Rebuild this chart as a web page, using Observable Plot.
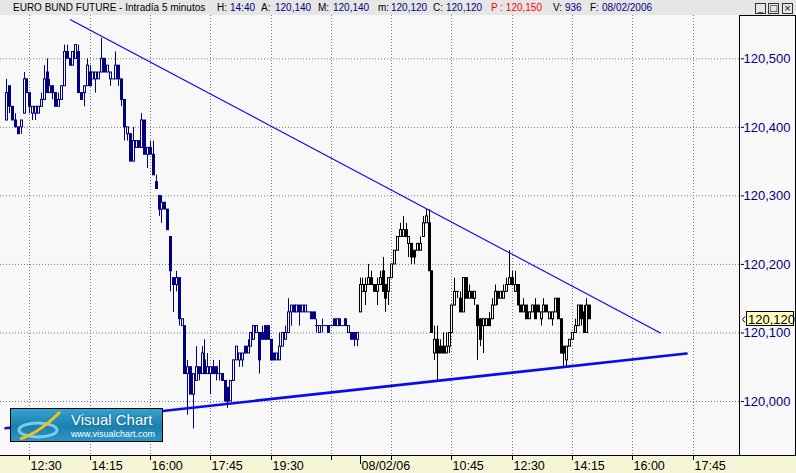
<!DOCTYPE html>
<html><head><meta charset="utf-8">
<script src="https://cdn.jsdelivr.net/npm/d3@7"></script>
<script src="https://cdn.jsdelivr.net/npm/@observablehq/plot@0.6"></script>
<style>
html,body{margin:0;padding:0}
body{width:796px;height:473px;overflow:hidden;position:relative;background:#f8f8f8;font-family:"Liberation Sans",Arial,sans-serif}
#bar{position:absolute;left:0;top:0;width:796px;height:15px;background:#e6e6e6}
#bar span{position:absolute;top:2px;font-size:10px;line-height:11px;white-space:nowrap;color:#000}
#bar span.v{color:#000080}
#bar span.r{color:#ff0000}
.btn{position:absolute;top:3px;width:9px;height:9px;border:1px solid #333;background:#e6e6e6;font-size:9px;line-height:9px;text-align:center;color:#000;font-family:"DejaVu Sans",sans-serif}
#chart{position:absolute;left:0;top:15px}
#logo{position:absolute;left:10px;top:408px;width:151px;height:32px;border:1px solid #000;background:linear-gradient(#33a3cf,#1c80ae 55%,#2a96c4);overflow:hidden}
#logo .t1{position:absolute;left:60px;top:2px;color:#fff;font-size:15px;line-height:17px;text-shadow:0 0 2px #0b4f70;white-space:nowrap}
#logo .t2{position:absolute;left:60px;top:20px;color:#fff;font-size:9px;line-height:10px;white-space:nowrap}
#logo svg{position:absolute;left:0;top:0}
</style>
</head><body>
<div id="bar">
<span style="left:13px">EURO BUND FUTURE - Intradía 5 minutos</span>
<span style="left:217px">H:</span><span class="v" style="left:230px">14:40</span>
<span style="left:261px">A:</span><span class="v" style="left:275px">120,140</span>
<span style="left:318px">M:</span><span class="v" style="left:333px">120,140</span>
<span style="left:378px">m:</span><span class="v" style="left:391px">120,120</span>
<span style="left:433px">C:</span><span class="v" style="left:446px">120,120</span>
<span class="r" style="left:491px">P : 120,150</span>
<span style="left:553px">V:</span><span class="v" style="left:565px">936</span>
<span style="left:590px">F:</span><span class="v" style="left:602px">08/02/2006</span>
<div class="btn" style="left:755px">_</div>
<div class="btn" style="left:768px">□</div>
<div class="btn" style="left:782px">×</div>
</div>
<div id="chart"></div>
<div id="logo">
<svg width="60" height="32"><ellipse cx="27" cy="21" rx="19" ry="7" fill="none" stroke="#8fd6f2" stroke-width="3" opacity="0.85"/><path d="M9,30 C22,26 36,16 49,3" fill="none" stroke="#f3c21a" stroke-width="3"/></svg>
<div class="t1">Visual Chart</div>
<div class="t2">www.visualchart.com</div>
</div>
<script>
// ---- Day 1 (07/02/2006), 5-minute bars ----
const d1Open = [
120.41,120.46,120.43,120.41,120.40,120.40,120.42,120.47,120.45,120.42,
120.42,120.42,120.43,120.44,120.48,120.45,120.46,120.45,120.43,120.44,
120.46,120.51,120.50,120.49,120.50,120.51,120.45,120.45,120.46,120.48,
120.47,120.47,120.47,120.48,120.50,120.48,120.47,120.47,120.47,120.49,
120.47,120.44,120.39,120.39,120.35,120.37,120.38,120.37,120.41,120.36,
120.37,120.36,120.32,120.30,120.28,120.29,120.28,120.24,120.18,120.17,
120.18,120.11,120.11,120.04,120.05,120.01,120.03,120.05,120.04,120.06,
120.04,120.04,120.05,120.05,120.04,120.04,120.03,120.02,120.00,120.03,
120.06,120.06,120.06,120.08,120.07,120.08,120.09,120.10,120.10,120.10,
120.11,120.11,120.09,120.07,120.06,120.06,120.08,120.09,120.10,120.13,
120.14,120.13,120.14,120.13,120.13,120.13,120.13,120.13,120.11,120.10,
120.11,120.11,120.11,120.11,120.12,120.11,120.12,120.11,120.12,120.10,
120.10,120.10,120.09];
const d1High = [
120.47,120.46,120.43,120.42,120.40,120.41,120.48,120.47,120.45,120.43,
120.43,120.43,120.45,120.49,120.50,120.47,120.46,120.45,120.45,120.46,
120.52,120.52,120.50,120.51,120.52,120.52,120.45,120.46,120.50,120.49,
120.48,120.48,120.48,120.53,120.50,120.49,120.48,120.47,120.51,120.49,
120.47,120.44,120.40,120.39,120.40,120.38,120.38,120.42,120.41,120.37,
120.38,120.38,120.33,120.30,120.30,120.29,120.28,120.24,120.18,120.19,
120.18,120.12,120.11,120.06,120.05,120.04,120.08,120.05,120.08,120.09,
120.07,120.05,120.06,120.05,120.06,120.04,120.03,120.02,120.03,120.06,
120.08,120.07,120.07,120.08,120.09,120.10,120.11,120.11,120.10,120.11,
120.11,120.11,120.09,120.07,120.07,120.10,120.10,120.11,120.15,120.14,
120.14,120.14,120.14,120.14,120.14,120.13,120.13,120.13,120.12,120.11,
120.12,120.11,120.11,120.11,120.12,120.12,120.12,120.11,120.12,120.11,
120.10,120.10,120.10];
const d1Low = [
120.41,120.42,120.41,120.40,120.39,120.39,120.42,120.45,120.42,120.41,
120.41,120.42,120.43,120.44,120.45,120.45,120.44,120.43,120.43,120.44,
120.46,120.50,120.49,120.49,120.50,120.45,120.44,120.43,120.46,120.46,
120.47,120.45,120.47,120.48,120.48,120.48,120.46,120.47,120.47,120.46,
120.43,120.38,120.38,120.35,120.35,120.37,120.37,120.37,120.36,120.34,
120.36,120.33,120.31,120.27,120.26,120.28,120.25,120.16,120.13,120.16,
120.11,120.11,120.04,119.98,120.01,119.96,120.03,120.03,120.04,120.04,
120.04,120.01,120.04,120.03,120.03,120.03,120.00,119.99,120.00,120.03,
120.06,120.05,120.05,120.07,120.07,120.08,120.09,120.10,120.04,120.09,
120.09,120.09,120.06,120.06,120.06,120.06,120.08,120.09,120.10,120.11,
120.13,120.13,120.11,120.13,120.13,120.13,120.12,120.12,120.10,120.10,
120.10,120.11,120.10,120.11,120.11,120.11,120.11,120.11,120.11,120.10,
120.09,120.08,120.08];
const d1Close = [
120.45,120.43,120.41,120.40,120.39,120.41,120.47,120.45,120.43,120.43,
120.43,120.43,120.44,120.47,120.45,120.46,120.45,120.43,120.44,120.46,
120.51,120.50,120.49,120.51,120.52,120.45,120.44,120.46,120.49,120.46,
120.48,120.48,120.48,120.50,120.48,120.49,120.48,120.47,120.49,120.47,
120.44,120.40,120.40,120.35,120.38,120.38,120.37,120.41,120.36,120.37,
120.36,120.33,120.31,120.28,120.29,120.28,120.25,120.19,120.17,120.18,
120.12,120.12,120.04,120.05,120.01,120.04,120.05,120.04,120.07,120.04,
120.05,120.05,120.04,120.04,120.04,120.03,120.00,120.00,120.03,120.06,
120.08,120.07,120.07,120.07,120.08,120.10,120.11,120.11,120.06,120.09,
120.09,120.09,120.06,120.06,120.07,120.08,120.10,120.10,120.13,120.14,
120.13,120.14,120.13,120.14,120.14,120.13,120.12,120.12,120.11,120.11,
120.11,120.11,120.10,120.11,120.11,120.12,120.11,120.11,120.11,120.11,
120.09,120.09,120.10];

// ---- Day 2 (08/02/2006), 5-minute bars ----
const d2Open = [
120.13,120.16,120.16,120.17,120.18,120.17,120.16,120.17,120.19,120.17,
120.16,120.18,120.20,120.22,120.24,120.24,120.25,120.23,120.23,120.22,
120.22,120.22,120.24,120.26,120.26,120.19,120.07,120.09,120.08,120.08,
120.07,120.08,120.10,120.14,120.16,120.15,120.13,120.18,120.15,120.16,
120.15,120.14,120.12,120.11,120.11,120.12,120.12,120.14,120.16,120.15,
120.15,120.16,120.17,120.18,120.16,120.17,120.14,120.13,120.14,120.12,
120.13,120.14,120.14,120.12,120.13,120.14,120.12,120.12,120.13,120.15,
120.12,120.08,120.06,120.08,120.09,120.10,120.11,120.14,120.13,120.10,
120.14];
const d2High = [
120.18,120.18,120.18,120.20,120.19,120.17,120.18,120.19,120.21,120.17,
120.18,120.20,120.22,120.24,120.26,120.27,120.26,120.24,120.23,120.22,
120.23,120.24,120.27,120.28,120.28,120.19,120.11,120.11,120.09,120.10,
120.10,120.10,120.14,120.18,120.16,120.16,120.18,120.18,120.17,120.16,
120.16,120.14,120.12,120.12,120.12,120.13,120.15,120.17,120.16,120.16,
120.17,120.18,120.22,120.19,120.19,120.17,120.14,120.15,120.14,120.13,
120.14,120.15,120.14,120.13,120.15,120.14,120.13,120.13,120.15,120.15,
120.12,120.08,120.08,120.09,120.10,120.12,120.14,120.14,120.14,120.15,
120.14];
const d2Low = [
120.13,120.16,120.14,120.17,120.17,120.16,120.14,120.17,120.16,120.13,
120.14,120.18,120.20,120.22,120.24,120.24,120.24,120.21,120.20,120.20,
120.22,120.22,120.24,120.26,120.19,120.10,120.06,120.03,120.07,120.07,
120.07,120.07,120.10,120.14,120.15,120.13,120.13,120.15,120.15,120.15,
120.14,120.06,120.08,120.07,120.11,120.11,120.12,120.14,120.14,120.15,
120.15,120.16,120.17,120.17,120.16,120.14,120.13,120.13,120.12,120.12,
120.13,120.12,120.13,120.11,120.13,120.13,120.12,120.11,120.13,120.12,
120.07,120.05,120.05,120.08,120.09,120.10,120.11,120.11,120.10,120.10,
120.12];
const d2Close = [
120.17,120.17,120.17,120.18,120.17,120.16,120.17,120.18,120.16,120.15,
120.18,120.20,120.22,120.24,120.25,120.25,120.24,120.24,120.21,120.21,
120.23,120.23,120.26,120.27,120.19,120.10,120.09,120.07,120.07,120.07,
120.08,120.10,120.14,120.16,120.16,120.13,120.18,120.15,120.16,120.15,
120.16,120.11,120.09,120.12,120.12,120.11,120.14,120.16,120.15,120.16,
120.16,120.17,120.18,120.17,120.17,120.14,120.13,120.14,120.12,120.13,
120.14,120.12,120.13,120.13,120.14,120.13,120.13,120.13,120.15,120.12,
120.07,120.07,120.08,120.09,120.10,120.11,120.14,120.12,120.10,120.14,
120.12];

// ---- Trend lines (bar index, price) ----
const upperTrendIdx = [22.2, 227.6];
const upperTrendVal = [120.557, 120.100];
const lowerTrendIdx = [-0.5, 236.7];
const lowerTrendVal = [119.961, 120.070];

// ---- Axes ----
const yTicks = [120.0, 120.1, 120.2, 120.3, 120.4, 120.5];
const xTickIdx = [8, 29, 50, 71, 92, 113, 123, 134, 155, 176, 197, 218, 239];
const xTickLabel = ["12:30","14:15","16:00","17:45","19:30","","08/02/06","","10:45","12:30","14:15","16:00","17:45"];

const dayStart = d1Open.length;
const bars = [];
d1Open.forEach((o, k) => bars.push({i: k, open: o, high: d1High[k], low: d1Low[k], close: d1Close[k], c: "#000080"}));
d2Open.forEach((o, k) => bars.push({i: dayStart + k, open: o, high: d2High[k], low: d2Low[k], close: d2Close[k], c: "#000000"}));

const upper = upperTrendIdx.map((x, k) => ({x, y: upperTrendVal[k]}));
const lower = lowerTrendIdx.map((x, k) => ({x, y: lowerTrendVal[k]}));
const fmt = v => v.toFixed(3).replace(".", ",");
const labelOf = new Map(xTickIdx.map((d, k) => [d, xTickLabel[k]]));
const gridIdx = xTickIdx.filter(d => d !== dayStart);
const BG = "#f8f8f8";

const plot = Plot.plot({
  width: 796, height: 458,
  marginTop: 0, marginRight: 56, marginBottom: 18, marginLeft: 0,
  x: {domain: [-2.2006, 255.46], round: true, ticks: xTickIdx, tickFormat: d => labelOf.get(d), tickSize: 5, tickPadding: 1, line: false},
  y: {domain: [119.9212, 120.5632], axis: "right", ticks: yTicks, tickFormat: fmt, tickSize: 3, tickPadding: 0},
  color: {type: "identity"},
  style: {background: "transparent", fontFamily: "Liberation Sans, Arial, sans-serif", overflow: "visible", color: "#000"},
  marks: [
    Plot.ruleY(yTicks, {stroke: "#7a7a7a", strokeDasharray: "1,2"}),
    Plot.ruleX(gridIdx, {stroke: "#7a7a7a", strokeDasharray: "1,2"}),
    Plot.ruleX(bars, {x: "i", y1: "high", y2: "low", stroke: "c"}),
    Plot.ruleX(bars, {x: "i", y1: d => Math.max(d.open, d.close), y2: d => Math.min(d.open, d.close), stroke: "c", strokeWidth: 3, insetTop: -0.5, insetBottom: -0.5}),
    Plot.ruleX(bars.filter(d => d.close > d.open), {x: "i", y1: "close", y2: "open", stroke: BG, strokeWidth: 1, insetTop: 0.5, insetBottom: 0.5}),
    Plot.line(upper, {x: "x", y: "y", stroke: "#0000ff", strokeWidth: 1.1}),
    Plot.line(lower, {x: "x", y: "y", stroke: "#0a0af0", strokeWidth: 2.7})
  ]
});
document.getElementById("chart").appendChild(plot);

const svg = d3.select(plot);
const xs = plot.scale("x"), ys = plot.scale("y");
svg.selectAll('[aria-label="y-axis"] text, [aria-label="y-axis tick label"] text').attr("fill", "#000080").attr("font-size", 13);
svg.selectAll('[aria-label="x-axis"] text, [aria-label="x-axis tick label"] text').attr("text-anchor", "start").attr("dx", 1).attr("font-size", 12.5).attr("fill", "#000");
svg.selectAll('[aria-label="y-axis"], [aria-label="x-axis"]').attr("font-size", null);
svg.insert("rect", ":first-child").attr("x", 0).attr("y", 440).attr("width", 796).attr("height", 18).attr("fill", "#f6f6d6");
const ln = (x1, y1, x2, y2, w = 1) => svg.append("line").attr("x1", x1).attr("y1", y1).attr("x2", x2).attr("y2", y2).attr("stroke", "#000").attr("stroke-width", w);
ln(739.5, 0, 739.5, 440);
ln(795.5, 0, 795.5, 440);
ln(739, 0.5, 796, 0.5);
ln(0, 440.5, 796, 440.5);
const sx = Math.round(xs.apply(dayStart)) + 0.5;
ln(sx, 440, sx, 449);

const lastClose = d2Close[d2Close.length - 1];
const py = Math.round(ys.apply(lastClose));
svg.append("rect").attr("x", 746.5).attr("y", py - 7.5).attr("width", 47).attr("height", 14).attr("fill", "#ffffc0").attr("stroke", "#000");
svg.append("text").attr("x", 748).attr("y", py).attr("dy", "0.36em").attr("text-anchor", "start").attr("font-size", 13).attr("fill", "#000").text(fmt(lastClose));
svg.append("path").attr("d", `M745,${py - 2.5}L742.5,${py + 0.5}L745,${py + 3.5}`).attr("stroke", "#000").attr("fill", "none");
</script>
</body></html>
